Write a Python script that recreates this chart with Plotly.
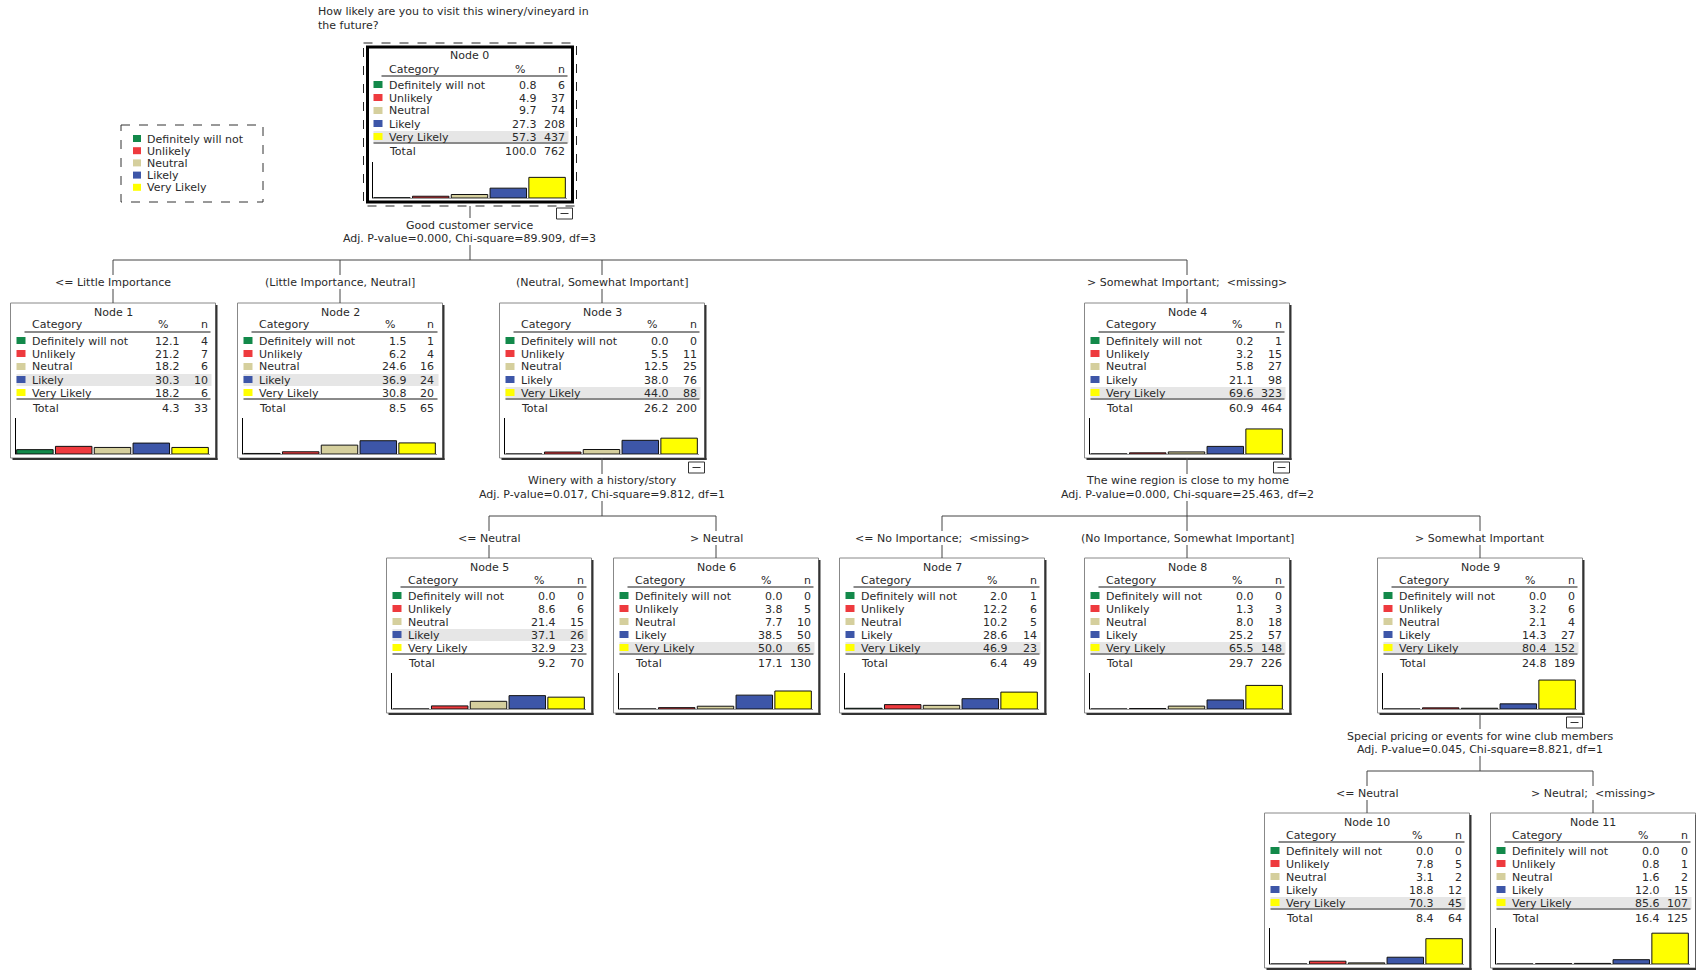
import plotly.graph_objects as go

# ---------------- data ----------------
categories = ["Definitely will not", "Unlikely", "Neutral", "Likely", "Very Likely"]
node_names = ["Node 0", "Node 1", "Node 2", "Node 3", "Node 4", "Node 5",
              "Node 6", "Node 7", "Node 8", "Node 9", "Node 10", "Node 11"]

# percentages per category, one value per node (0..11)
pct_definitely_will_not = [0.8, 12.1, 1.5, 0.0, 0.2, 0.0, 0.0, 2.0, 0.0, 0.0, 0.0, 0.0]
pct_unlikely = [4.9, 21.2, 6.2, 5.5, 3.2, 8.6, 3.8, 12.2, 1.3, 3.2, 7.8, 0.8]
pct_neutral = [9.7, 18.2, 24.6, 12.5, 5.8, 21.4, 7.7, 10.2, 8.0, 2.1, 3.1, 1.6]
pct_likely = [27.3, 30.3, 36.9, 38.0, 21.1, 37.1, 38.5, 28.6, 25.2, 14.3, 18.8, 12.0]
pct_very_likely = [57.3, 18.2, 30.8, 44.0, 69.6, 32.9, 50.0, 46.9, 65.5, 80.4, 70.3, 85.6]

# counts per category, one value per node
n_definitely_will_not = [6, 4, 1, 0, 1, 0, 0, 1, 0, 0, 0, 0]
n_unlikely = [37, 7, 4, 11, 15, 6, 5, 6, 3, 6, 5, 1]
n_neutral = [74, 6, 16, 25, 27, 15, 10, 5, 18, 4, 2, 2]
n_likely = [208, 10, 24, 76, 98, 26, 50, 14, 57, 27, 12, 15]
n_very_likely = [437, 6, 20, 88, 323, 23, 65, 23, 148, 152, 45, 107]

total_pct = [100.0, 4.3, 8.5, 26.2, 60.9, 9.2, 17.1, 6.4, 29.7, 24.8, 8.4, 16.4]
total_n = [762, 33, 65, 200, 464, 70, 130, 49, 226, 189, 64, 125]

title_lines = ["How likely are you to visit this winery/vineyard in", "the future?"]

split_parents = [0, 3, 4, 9]
split_vars = ["Good customer service", "Winery with a history/story",
              "The wine region is close to my home",
              "Special pricing or events for wine club members"]
split_stats = ["Adj. P-value=0.000, Chi-square=89.909, df=3",
               "Adj. P-value=0.017, Chi-square=9.812, df=1",
               "Adj. P-value=0.000, Chi-square=25.463, df=2",
               "Adj. P-value=0.045, Chi-square=8.821, df=1"]
split_children = [[1, 2, 3, 4], [5, 6], [7, 8, 9], [10, 11]]
split_edge_labels = [
    ["&lt;= Little Importance", "(Little Importance, Neutral]",
     "(Neutral, Somewhat Important]", "&gt; Somewhat Important; &nbsp;&lt;missing&gt;"],
    ["&lt;= Neutral", "&gt; Neutral"],
    ["&lt;= No Importance; &nbsp;&lt;missing&gt;", "(No Importance, Somewhat Important]",
     "&gt; Somewhat Important"],
    ["&lt;= Neutral", "&gt; Neutral; &nbsp;&lt;missing&gt;"],
]

# ---------------- layout / style ----------------
W, H = 1696, 971
colors = ["#12894a", "#ee3a3e", "#d5cf9d", "#3d56a8", "#ffff00"]
FONT = "DejaVu Sans, Verdana, sans-serif"
FS = 11
TXT = "#2a2a2a"
node_cx = [470, 113, 340, 602, 1187, 489, 716, 942, 1187, 1480, 1367, 1593]
node_top = [47, 303, 303, 303, 303, 558, 558, 558, 558, 558, 813, 813]
NW, NH = 205, 155

pct_cols = [pct_definitely_will_not, pct_unlikely, pct_neutral, pct_likely, pct_very_likely]
n_cols = [n_definitely_will_not, n_unlikely, n_neutral, n_likely, n_very_likely]


def X(px):
    return px / W


def Y(py):
    return 1 - py / H


shapes = []
annots = []


def line(x0, y0, x1, y1, color="#444444", width=1, dash=None):
    d = dict(type="line", xref="paper", yref="paper", x0=X(x0), y0=Y(y0), x1=X(x1), y1=Y(y1),
             line=dict(color=color, width=width))
    if dash:
        d["line"]["dash"] = dash
    shapes.append(d)


def rect(x0, y0, x1, y1, fill=None, color=None, width=0, dash=None, layer="above"):
    d = dict(type="rect", xref="paper", yref="paper", x0=X(x0), y0=Y(y0), x1=X(x1), y1=Y(y1),
             line=dict(color=color if color else "rgba(0,0,0,0)", width=width), layer=layer)
    if fill:
        d["fillcolor"] = fill
    if dash:
        d["line"]["dash"] = dash
    shapes.append(d)


def text(x, y, s, anchor="left", size=FS):
    annots.append(dict(xref="paper", yref="paper", x=X(x), y=Y(y), text=s, showarrow=False,
                       xanchor=anchor, yanchor="middle", font=dict(family=FONT, size=size, color=TXT),
                       borderpad=0))


fig = go.Figure()

# title
text(317, 12, title_lines[0])
text(317, 25, title_lines[1])

# legend
rect(121, 125, 263, 202, color="#333333", width=1, dash="dash")
for k, cat in enumerate(categories):
    yy = 139 + 12.2 * k
    rect(133, yy - 4, 141, yy + 3, fill=colors[k])
    text(146, yy, cat)

# nodes
for i in range(12):
    L = node_cx[i] - NW / 2
    T = node_top[i]
    R = L + NW
    B = T + NH
    if i == 0:
        rect(L - 4, T - 4, R + 4, B + 4, color="#222222", width=1, dash="dash", layer="below")
        rect(L, T, R, B, fill="white", color="#000000", width=3, layer="below")
    else:
        line(R + 1, T + 2, R + 1, B + 2, color="#333333", width=2)
        line(L + 2, B + 1, R + 2, B + 1, color="#333333", width=2)
        rect(L, T, R, B, fill="white", color="#888888", width=1, layer="below")

    text(L + NW / 2, T + 9, node_names[i], anchor="center")
    text(L + 20, T + 22, "Category")
    text(L + 152, T + 22, "%", anchor="center")
    text(L + 198, T + 22, "n", anchor="right")
    line(L + 14, T + 29, L + 200, T + 29, color="#8a8a8a", width=2)

    vals = [pct_cols[k][i] for k in range(5)]
    top_k = max(range(5), key=lambda k: vals[k])
    for k in range(5):
        yy = T + 38 + 13 * k
        if k == top_k:
            rect(L + 6, yy - 6, L + 201, yy + 6, fill="#e6e6e6", layer="below")
        rect(L + 6, yy - 4, L + 15, yy + 3, fill=colors[k])
        text(L + 20, yy, categories[k])
        text(L + 170, yy, f"{pct_cols[k][i]:.1f}", anchor="right")
        text(L + 198, yy, f"{n_cols[k][i]}", anchor="right")
    line(L + 6, T + 96, L + 200, T + 96, color="#8a8a8a", width=2)
    text(L + 20, T + 105, "Total")
    text(L + 170, T + 105, f"{total_pct[i]:.1f}", anchor="right")
    text(L + 198, T + 105, f"{total_n[i]}", anchor="right")

    # histogram via its own small axes
    ax = i + 2
    fig.add_trace(go.Bar(x=list(range(5)), y=vals, marker=dict(color=colors,
                  line=dict(color="#111111", width=1)), xaxis=f"x{ax}", yaxis=f"y{ax}",
                  showlegend=False, hoverinfo="skip"))
    fig.layout[f"xaxis{ax}"] = dict(domain=[X(L + 5), X(L + 199)], range=[-0.5, 4.5],
                                    showgrid=False, zeroline=False, showticklabels=False,
                                    ticks="", showline=True, linecolor="#9a9a9a", linewidth=1,
                                    anchor=f"y{ax}", fixedrange=True, layer="below traces")
    fig.layout[f"yaxis{ax}"] = dict(domain=[Y(T + 151), Y(T + 115)], range=[0, 100],
                                    showgrid=False, zeroline=False, showticklabels=False,
                                    ticks="", showline=True, linecolor="#000000", linewidth=1,
                                    anchor=f"x{ax}", fixedrange=True)

# connectors
for p, var, stat, kids, labs in zip(split_parents, split_vars, split_stats,
                                    split_children, split_edge_labels):
    cx = node_cx[p]
    R = cx + NW / 2
    B = node_top[p] + NH
    line(cx, B + (4 if p == 0 else 0), cx, B + 16)
    text(cx, B + 23, var, anchor="center")
    text(cx, B + 36, stat, anchor="center")
    line(cx, B + 43, cx, B + 58)
    xs = [node_cx[c] for c in kids]
    line(min(xs), B + 58, max(xs), B + 58)
    for c, lab in zip(kids, labs):
        line(node_cx[c], B + 58, node_cx[c], B + 73)
        text(node_cx[c], B + 80, lab, anchor="center")
        line(node_cx[c], B + 87, node_cx[c], node_top[c])
    # collapse box
    rect(R - 16, B + 4 + (2 if p == 0 else 0), R, B + 15 + (2 if p == 0 else 0),
         fill="white", color="#333333", width=1)
    yy = B + 9.5 + (2 if p == 0 else 0)
    line(R - 12, yy, R - 4, yy, color="#333333", width=1)

fig.update_layout(width=W, height=H, margin=dict(l=0, r=0, t=0, b=0),
                  paper_bgcolor="white", plot_bgcolor="rgba(0,0,0,0)",
                  shapes=shapes, annotations=annots, bargap=0.06, showlegend=False)

fig.write_html("out.html", config={"displayModeBar": False},
               post_script="document.body.style.margin='0';document.body.style.overflow='hidden';")
